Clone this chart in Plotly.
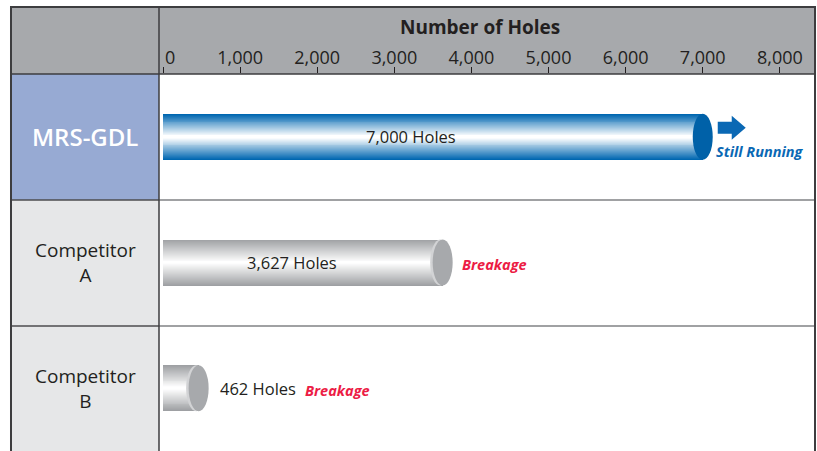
import plotly.graph_objects as go

# ---------------- data ----------------
categories = ["MRS-GDL", "Competitor A", "Competitor B"]
holes = [7000, 3627, 462]
value_labels = ["7,000 Holes", "3,627 Holes", "462 Holes"]
status_labels = ["Still Running", "Breakage", "Breakage"]
tick_values = [0, 1000, 2000, 3000, 4000, 5000, 6000, 7000, 8000]
tick_labels = ["\u00a0\u00a0\u00a00", "1,000", "2,000", "3,000", "4,000",
               "5,000", "6,000", "7,000", "8,000"]
axis_title = "Number of Holes"

# ---------------- geometry / style ----------------
W, H = 817, 451
ML, MR, MT, MB = 159, 2, 74, 0
PW, PH = W - ML - MR, H - MT - MB
FONT = "Open Sans"
TXT = "#231f20"


def px(xp):
    return (xp - ML) / PW


def py(yp):
    return (H - MB - yp) / PH


rows = list(range(len(categories)))
BAR_W = 0.366
inside = [True, True, False]

base_rgb = [(0, 103, 177), (158, 160, 163), (158, 160, 163)]
face_col = ["#0061a8", "#a7a9ac", "#a7a9ac"]
rim_col = [None, "#d2d3d5", "#d2d3d5"]
status_col = ["#0a68b4", "#ec1c45", "#ec1c45"]


def mix(c, f):
    return "rgb(%d,%d,%d)" % tuple(round(255 + (v - 255) * f) for v in c)


fig = go.Figure()

# cylinder body: stacked overlay bars forming a vertical gradient
N = 24
for k in range(N):
    t = 1 - k / N
    f = max(0.0, (t - 0.06) / 0.94)
    fig.add_trace(go.Bar(
        x=holes, y=rows, orientation="h", base=0, width=BAR_W * t,
        marker=dict(color=[mix(c, f) for c in base_rgb], line=dict(width=0)),
        hoverinfo="skip", showlegend=False,
    ))

shapes = []
# backgrounds
shapes.append(dict(type="rect", xref="paper", yref="paper", x0=px(11), x1=px(815),
                   y0=py(74), y1=py(7), fillcolor="#a7a9ac", line=dict(width=0), layer="below"))
cell_bg = ["#97aad3", "#e6e7e8", "#e6e7e8"]
bounds = [74, 200, 326, 451]
for i in rows:
    shapes.append(dict(type="rect", xref="paper", yref="paper", x0=px(11), x1=px(159),
                       y0=py(bounds[i + 1]), y1=py(bounds[i]), fillcolor=cell_bg[i],
                       line=dict(width=0), layer="below"))

# bar end caps
for i in rows:
    if rim_col[i]:
        shapes.append(dict(type="circle", xref="x", yref="y", xsizemode="pixel", ysizemode="pixel",
                           xanchor=holes[i], yanchor=rows[i], x0=-12.5, x1=7.5, y0=-23, y1=23,
                           fillcolor=rim_col[i], line=dict(width=0), layer="above"))
    shapes.append(dict(type="circle", xref="x", yref="y", xsizemode="pixel", ysizemode="pixel",
                       xanchor=holes[i], yanchor=rows[i], x0=-10, x1=10, y0=-23, y1=23,
                       fillcolor=face_col[i], line=dict(width=0), layer="above"))

# "still running" arrow, anchored to the end of the first bar
shapes.append(dict(type="path", xref="x", yref="y", xsizemode="pixel", ysizemode="pixel",
                   xanchor=holes[0], yanchor=rows[0],
                   path="M 15 3 L 29 3 L 29 -3 L 43 9 L 29 21 L 29 15 L 15 15 Z",
                   fillcolor="#0a68b4", line=dict(width=0), layer="above"))

# grid / frame lines
DARK = "#3d3d3f"
GRAYL = "#808285"
for yp in (200, 326):
    shapes.append(dict(type="line", xref="paper", yref="paper", x0=px(11), x1=px(159),
                       y0=py(yp), y1=py(yp), line=dict(color="#4d4d4f", width=1.5), layer="above"))
    shapes.append(dict(type="line", xref="paper", yref="paper", x0=px(159), x1=px(815),
                       y0=py(yp), y1=py(yp), line=dict(color=GRAYL, width=1.5), layer="above"))
shapes.append(dict(type="line", xref="paper", yref="paper", x0=px(11), x1=px(815),
                   y0=py(74), y1=py(74), line=dict(color=DARK, width=1.5), layer="above"))
shapes.append(dict(type="line", xref="paper", yref="paper", x0=px(159), x1=px(159),
                   y0=py(460), y1=py(7), line=dict(color=DARK, width=1.5), layer="above"))
shapes.append(dict(type="path", xref="paper", yref="paper",
                   path="M %f %f L %f %f L %f %f L %f %f" % (px(11), py(460), px(11), py(7),
                                                          px(815), py(7), px(815), py(460)),
                   line=dict(color=DARK, width=2), layer="above"))

annotations = []
annotations.append(dict(text=axis_title, xref="paper", yref="paper", x=px(480), y=py(27),
                        xanchor="center", yanchor="middle", showarrow=False,
                        font=dict(family=FONT, size=19, color=TXT, weight="bold")))
for i in rows:
    if i == 0:
        annotations.append(dict(text=categories[i], xref="paper", yref="y", x=px(85), y=rows[i],
                                xanchor="center", yanchor="middle", showarrow=False,
                                font=dict(family=FONT, size=24, color="white", weight=600)))
    else:
        annotations.append(dict(text=categories[i].replace(" ", "<br>"), xref="paper", yref="y",
                                x=px(85), y=rows[i], xanchor="center", yanchor="middle",
                                showarrow=False, font=dict(family=FONT, size=19, color=TXT)))
    lab_font = dict(family=FONT, size=16.5, color=TXT)
    st_font = dict(family=FONT, size=14.5, color=status_col[i], weight="bold", style="italic")
    if inside[i]:
        annotations.append(dict(text=value_labels[i], xref="x", yref="y", x=holes[i] * 0.46,
                                y=rows[i], xanchor="center", yanchor="middle", showarrow=False,
                                font=lab_font))
        if i == 0:
            annotations.append(dict(text=status_labels[i], xref="x", yref="y", x=holes[i],
                                    y=rows[i], xanchor="left", yanchor="middle", xshift=11,
                                    yshift=-15, showarrow=False, font=st_font))
        else:
            annotations.append(dict(text=status_labels[i], xref="x", yref="y", x=holes[i],
                                    y=rows[i], xanchor="left", yanchor="middle", xshift=17,
                                    yshift=-2, showarrow=False, font=st_font))
    else:
        annotations.append(dict(text=value_labels[i], xref="x", yref="y", x=holes[i],
                                y=rows[i], xanchor="left", yanchor="middle", xshift=19,
                                showarrow=False, font=lab_font))
        annotations.append(dict(text=status_labels[i], xref="x", yref="y", x=holes[i],
                                y=rows[i], xanchor="left", yanchor="middle", xshift=104,
                                yshift=-2, showarrow=False, font=st_font))

fig.update_layout(
    width=W, height=H,
    margin=dict(l=ML, r=MR, t=MT, b=MB, pad=0),
    paper_bgcolor="white", plot_bgcolor="white",
    barmode="overlay", bargap=0,
    showlegend=False,
    shapes=shapes, annotations=annotations,
    xaxis=dict(side="top", range=[-52, 8456], tickvals=tick_values, ticktext=tick_labels,
               ticks="outside", ticklen=6, tickwidth=1, tickcolor=TXT,
               ticklabelstandoff=-4,
               tickfont=dict(family=FONT, size=18, color=TXT),
               showgrid=False, zeroline=False, showline=False, fixedrange=True),
    yaxis=dict(range=[2.5, -0.5], showticklabels=False, showgrid=False, zeroline=False,
               showline=False, ticks="", fixedrange=True),
)

fig.write_html("out.html", config={"displayModeBar": False},
               post_script="document.body.style.margin='0px';document.body.style.overflow='hidden';")
